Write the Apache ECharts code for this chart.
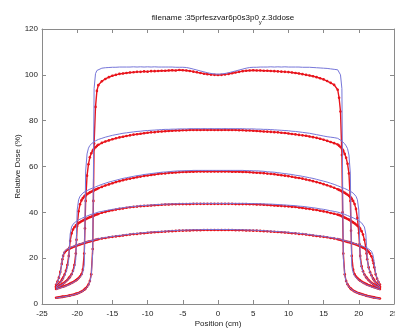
<!DOCTYPE html>
<html>
<head>
<meta charset="utf-8">
<script src="https://cdn.jsdelivr.net/npm/echarts@6/dist/echarts.min.js"></script>
<style>html,body{margin:0;padding:0;background:#fff;}#c{width:395px;height:330px;}</style>
</head>
<body>
<div id="c"></div>
<script>
// Shared positions (cm)
const posX = [
-23,-22.8,-22.6,-22.4,-22.2,-22.1,-22,-21.8,-21.6,-21.4,-21.2,-21.1,-21,-20.8,-20.6,-20.4,-20.2,-20.1,-20,-19.8,-19.6,-19.4,-19.2,-19,-18.9,-18.8,-18.6,-18.4,-18.2,-18,-17.8,-17.7,-17.6,-17.4,-17.2,-17,
-16.5,-16,-15.5,-15,-14.5,-14,-13.5,-13,-12.5,-12,-11.5,-11,-10.5,-10,-9.5,-9,-8.5,-8,-7.5,-7,-6.5,-6,-5.5,-5,-4.5,-4,-3.5,-3,-2.5,-2,-1.5,-1,-0.5,0,0.5,1,1.5,2,2.5,3,3.5,4,4.5,5,5.5,6,6.5,7,7.5,8,8.5,9,9.5,10,10.5,11,11.5,12,12.5,13,13.5,14,14.5,15,15.5,16,16.5,
17,17.2,17.4,17.6,17.7,17.8,18,18.2,18.4,18.6,18.8,18.9,19,19.2,19.4,19.6,19.8,20,20.1,20.2,20.4,20.6,20.8,21,21.1,21.2,21.4,21.6,21.8,22,22.1,22.2,22.4,22.6,22.8,23
];

// Profile A (top)
const blueA = [
2.6,2.7,2.8,2.9,3.0,3.1,3.1,3.2,3.3,3.4,3.5,3.6,3.6,3.8,3.9,4.1,4.3,4.4,4.5,4.7,5.0,5.3,5.6,6.0,6.3,6.6,7.3,8.2,9.6,12.5,22,55,94,100.5,101.9,102.5,
102.9,103.1,103.2,103.3,103.3,103.4,103.4,103.4,103.4,103.5,
103.4,103.5,103.4,103.5,103.4,103.5,103.4,103.4,103.4,103.4,
103.4,103.3,103.3,103.3,103.2,102.9,102.5,102.1,101.7,101.3,
100.9,100.6,100.4,100.3,100.4,100.6,100.9,101.3,101.7,102.1,
102.5,102.9,103.2,103.3,103.3,103.4,103.4,103.4,103.5,103.4,
103.5,103.4,103.5,103.4,103.4,103.4,103.4,103.3,103.3,103.3,
103.2,103.1,103.0,102.9,102.8,102.6,102.4,
102.2,101.6,100.0,94,55,20,12.5,9.8,8.4,7.5,6.8,6.5,6.2,5.8,5.4,5.1,4.8,4.6,4.5,4.4,4.2,4.0,3.8,3.6,3.5,3.4,3.3,3.2,3.0,2.9,2.8,2.8,2.6,2.5,2.4,2.3
];
const redA = [
2.7,2.8,2.9,3.0,3.1,3.1,3.2,3.3,3.4,3.5,3.6,3.7,3.7,3.9,4.0,4.2,4.4,4.5,4.6,4.8,5.1,5.4,5.8,6.2,6.5,6.8,7.5,8.5,10.0,13,24,45,70,86,93,95.5,
97.2,98.2,99.0,99.6,100.0,100.4,100.6,100.8,101.0,101.1,
101.3,101.3,101.5,101.4,101.6,101.6,101.7,101.8,101.8,101.9,
102.0,101.9,102.1,102.0,101.9,101.7,101.4,101.1,100.8,100.5,
100.3,100.1,100.0,99.9,100.0,100.2,100.4,100.7,101.0,101.3,
101.6,101.8,101.9,102.0,101.9,101.9,101.8,101.8,101.7,101.6,
101.5,101.4,101.3,101.2,101.0,100.8,100.6,100.3,100.0,99.7,
99.4,99.0,98.5,98.0,97.3,96.5,95.6,
93.5,90,84,65,40,22,13,10,8.6,7.6,6.9,6.6,6.3,5.9,5.5,5.2,4.9,4.7,4.6,4.5,4.3,4.1,3.9,3.7,3.6,3.5,3.4,3.3,3.1,3.0,2.9,2.9,2.7,2.6,2.5,2.4
];

// Profile B
const blueB = [
6.4,6.6,6.8,7.0,7.2,7.3,7.4,7.6,7.9,8.1,8.4,8.5,8.7,9.0,9.3,9.7,10.1,10.3,10.5,11.0,11.6,12.4,13.8,17,35,58,65.5,68.0,69.2,69.9,70.4,70.6,70.8,71.2,71.5,71.8,
72.3,72.8,73.2,73.6,73.9,74.2,74.5,74.7,74.9,75.1,
75.3,75.4,75.6,75.7,75.8,75.9,76.0,76.1,76.2,76.2,
76.3,76.3,76.4,76.4,76.4,76.5,76.5,76.5,76.5,76.5,
76.5,76.5,76.5,76.5,76.5,76.5,76.5,76.5,76.5,76.5,
76.5,76.4,76.4,76.4,76.3,76.3,76.2,76.2,76.1,76.0,
75.9,75.8,75.7,75.6,75.4,75.3,75.1,74.9,74.7,74.5,
74.2,73.9,73.6,73.3,73.0,72.8,72.6,
72.3,71.9,71.5,71.0,70.8,70.5,69.9,69.0,67.8,65,57,33,16.5,13.6,12.3,11.5,10.9,10.4,10.2,10.0,9.6,9.2,8.9,8.6,8.4,8.3,8.0,7.8,7.5,7.3,7.2,7.1,6.9,6.7,6.5,6.3
];
const redB = [
6.6,6.8,7.0,7.2,7.4,7.5,7.6,7.8,8.1,8.3,8.6,8.7,8.9,9.2,9.5,9.9,10.3,10.5,10.8,11.3,12.0,13.0,15,22,33,45,56,61,64,65.8,66.8,67.3,67.7,68.4,69.0,69.5,
70.3,70.9,71.4,71.9,72.3,72.7,73.0,73.3,73.6,73.9,
74.1,74.3,74.5,74.7,74.9,75.0,75.2,75.3,75.4,75.5,
75.6,75.7,75.7,75.8,75.8,75.9,75.9,75.9,75.9,76.0,
75.9,76.0,75.9,75.9,75.9,76.0,75.9,75.9,75.9,75.8,
75.8,75.7,75.7,75.6,75.5,75.4,75.3,75.2,75.1,75.0,
74.9,74.7,74.6,74.4,74.2,74.0,73.8,73.6,73.4,73.1,
72.8,72.5,72.1,71.7,71.2,70.7,70.2,
69.6,69.1,68.5,67.8,67.3,66.8,65.5,63.8,61.2,57,45,32,21,15,13.0,12.0,11.3,10.7,10.5,10.2,9.8,9.4,9.1,8.8,8.6,8.5,8.2,8.0,7.7,7.5,7.4,7.3,7.1,6.9,6.7,6.5
];

// Profile C
const blueC = [
7.0,7.3,7.6,7.9,8.3,8.5,8.7,9.2,9.7,10.3,11.0,11.4,11.8,12.8,14.0,15.8,19.5,30,41,45.5,47.0,47.8,48.4,48.8,49.0,49.2,49.5,49.8,50.1,50.4,50.6,50.7,50.9,51.1,51.4,51.6,
52.2,52.7,53.2,53.6,54.0,54.4,54.8,55.1,55.4,55.7,
56.0,56.2,56.5,56.7,56.9,57.1,57.3,57.5,57.6,57.7,
57.9,58.0,58.1,58.1,58.2,58.2,58.3,58.3,58.3,58.3,
58.3,58.3,58.3,58.3,58.3,58.3,58.3,58.3,58.3,58.3,
58.3,58.2,58.2,58.1,58.1,58.0,57.9,57.7,57.6,57.5,
57.3,57.1,56.9,56.7,56.5,56.2,56.0,55.7,55.4,55.1,
54.8,54.4,54.0,53.6,53.2,52.7,52.2,
51.6,51.4,51.1,50.9,50.7,50.6,50.4,50.1,49.8,49.5,49.2,49.0,48.8,48.4,47.8,47.0,45.5,41,30,19.5,15.8,14.0,12.8,11.8,11.4,11.0,10.3,9.7,9.2,8.7,8.5,8.3,7.9,7.6,7.3,7.0
];
const redC = [
7.2,7.5,7.8,8.1,8.5,8.7,8.9,9.4,9.9,10.5,11.2,11.6,12.0,13.0,14.5,17,22,28,34,40.5,43.5,45.2,46.2,46.9,47.2,47.4,47.9,48.3,48.7,49.0,49.3,49.5,49.6,49.9,50.2,50.5,
51.1,51.7,52.2,52.7,53.2,53.6,54.0,54.4,54.7,55.0,
55.3,55.6,55.9,56.1,56.3,56.5,56.7,56.9,57.0,57.2,
57.3,57.4,57.5,57.6,57.6,57.7,57.7,57.8,57.8,57.8,
57.8,57.8,57.8,57.8,57.8,57.8,57.8,57.7,57.7,57.7,
57.6,57.6,57.5,57.4,57.3,57.2,57.1,56.9,56.8,56.6,
56.4,56.2,56.0,55.8,55.5,55.2,55.0,54.7,54.3,54.0,
53.6,53.2,52.8,52.3,51.8,51.3,50.7,
50.1,49.8,49.5,49.2,49.0,48.8,48.5,48.1,47.7,47.2,46.6,46.3,45.9,45.0,43.6,41.5,37.5,31,26,21,16.5,14.3,12.9,11.9,11.5,11.1,10.4,9.8,9.3,8.8,8.6,8.4,8.0,7.7,7.4,7.1
];

// Profile D
const blueD = [
7.5,8.0,8.6,9.3,10.1,10.6,11.1,12.3,13.8,15.8,19.5,25.5,30.5,33.6,34.8,35.4,35.9,36.1,36.3,36.7,37.0,37.3,37.6,37.9,38.0,38.1,38.4,38.6,38.9,39.1,39.3,39.4,39.5,39.7,39.9,40.1,
40.4,40.7,41.0,41.3,41.5,41.8,42.0,42.2,42.4,42.6,
42.7,42.9,43.0,43.1,43.2,43.3,43.4,43.5,43.6,43.6,
43.7,43.7,43.8,43.8,43.8,43.9,43.9,43.9,43.9,43.9,
43.9,43.9,43.9,43.9,43.9,43.9,43.9,43.9,43.9,43.9,
43.9,43.9,43.8,43.8,43.8,43.7,43.7,43.6,43.6,43.5,
43.4,43.3,43.2,43.1,43.0,42.9,42.7,42.6,42.4,42.2,
42.0,41.8,41.5,41.3,41.0,40.7,40.4,
40.1,39.9,39.7,39.5,39.4,39.3,39.1,38.9,38.6,38.4,38.1,38.0,37.9,37.6,37.3,37.0,36.7,36.3,36.1,35.9,35.4,34.8,33.6,30.5,25.5,19.5,15.8,13.8,12.3,11.1,10.6,10.1,9.3,8.6,8.0,7.5
];
const redD = [
7.7,8.2,8.8,9.5,10.4,10.9,11.5,12.8,14.5,17,21,24.5,27.5,30.8,32.5,33.5,34.2,34.5,34.8,35.3,35.7,36.1,36.4,36.7,36.9,37.0,37.3,37.6,37.9,38.1,38.4,38.5,38.6,38.9,39.1,39.3,
39.8,40.2,40.6,40.9,41.2,41.5,41.7,42.0,42.2,42.4,
42.5,42.7,42.8,42.9,43.0,43.1,43.2,43.3,43.4,43.4,
43.5,43.5,43.6,43.6,43.6,43.6,43.7,43.7,43.7,43.7,
43.7,43.7,43.7,43.7,43.7,43.7,43.7,43.7,43.6,43.6,
43.6,43.6,43.5,43.5,43.4,43.4,43.3,43.2,43.1,43.0,
42.9,42.8,42.7,42.6,42.4,42.3,42.1,41.9,41.7,41.5,
41.2,41.0,40.7,40.4,40.1,39.7,39.4,
39.0,38.8,38.6,38.3,38.2,38.0,37.7,37.4,37.1,36.8,36.4,36.2,36.0,35.6,35.2,34.7,34.2,33.6,33.2,32.8,31.8,30.3,28,24.5,22,19.5,16,13.9,12.5,11.3,10.8,10.3,9.4,8.7,8.1,7.6
];

// Profile E (bottom)
const blueE = [
8.4,9.6,11.2,13.5,17.5,20.0,21.5,23.0,23.6,24.0,24.3,24.5,24.6,24.9,25.1,25.4,25.6,25.7,25.8,26.0,26.2,26.4,26.6,26.8,26.9,27.0,27.2,27.3,27.5,27.7,27.8,27.9,28.0,28.2,28.3,28.5,
28.8,29.0,29.3,29.5,29.7,29.9,30.1,30.3,30.5,30.7,
30.8,31.0,31.1,31.3,31.4,31.5,31.6,31.7,31.8,31.9,
32.0,32.1,32.2,32.2,32.3,32.3,32.4,32.4,32.4,32.5,
32.5,32.5,32.5,32.5,32.5,32.5,32.5,32.5,32.4,32.4,
32.4,32.3,32.3,32.2,32.2,32.1,32.0,31.9,31.8,31.7,
31.6,31.5,31.4,31.3,31.1,31.0,30.8,30.7,30.5,30.3,
30.1,29.9,29.7,29.5,29.3,29.0,28.8,
28.5,28.3,28.2,28.0,27.9,27.8,27.7,27.5,27.3,27.2,27.0,26.9,26.8,26.6,26.4,26.2,26.0,25.8,25.7,25.6,25.4,25.1,24.9,24.6,24.5,24.3,24.0,23.6,23.0,21.5,20.0,17.5,13.5,11.2,9.6,8.4
];
const redE = [
8.4,9.8,11.5,14.0,17.5,19.5,21.0,22.5,23.2,23.7,24.0,24.2,24.3,24.6,24.9,25.1,25.4,25.5,25.6,25.8,26.0,26.2,26.4,26.6,26.7,26.8,27.0,27.2,27.3,27.5,27.6,27.7,27.8,28.0,28.1,28.3,
28.6,28.8,29.1,29.3,29.5,29.7,29.9,30.1,30.3,30.5,
30.6,30.8,30.9,31.1,31.2,31.3,31.4,31.5,31.6,31.7,
31.8,31.9,32.0,32.0,32.1,32.1,32.2,32.2,32.2,32.3,
32.3,32.3,32.3,32.3,32.3,32.3,32.3,32.3,32.2,32.2,
32.2,32.1,32.1,32.0,32.0,31.9,31.8,31.7,31.6,31.5,
31.4,31.3,31.2,31.1,30.9,30.8,30.6,30.5,30.3,30.1,
29.9,29.7,29.5,29.3,29.1,28.8,28.6,
28.3,28.1,28.0,27.8,27.7,27.6,27.5,27.3,27.1,27.0,26.8,26.7,26.6,26.4,26.2,26.0,25.7,25.5,25.4,25.2,24.9,24.6,24.3,23.9,23.7,23.4,22.8,22.0,20.8,19.0,17.8,16.0,13.0,11.0,9.6,8.5
];

const titleText = 'filename :35prfeszvar6p0s3p0';
const titleSub = 'y';
const titleTail = 'z.3ddose';
const xName = 'Position (cm)';
const yName = 'Relative Dose (%)';

const FONT = '"Liberation Sans", Arial, Helvetica, sans-serif';
const BLUE = '#7676d9';
const RED = '#e8141c';
const AXC = '#8a8a8a';

function pairs(vals){ return posX.map((x,i)=>[x, vals[i]]); }

const reds = [redA, redB, redC, redD, redE];
const blues = [blueA, blueB, blueC, blueD, blueE];

const series = [];
reds.forEach(r => series.push({
  type:'line', data: pairs(r), z: 2, silent: true,
  symbol:'circle', symbolSize: 2.6, showSymbol: true, showAllSymbol: true,
  itemStyle:{color: RED, borderWidth: 0},
  lineStyle:{color: RED, width: 1.4}
}));
blues.forEach(b => series.push({
  type:'line', data: pairs(b), z: 3, silent: true,
  symbol:'none', showSymbol: false,
  lineStyle:{color: BLUE, width: 1}
}));

const axisCommon = {
  axisLine:{show:true, onZero:false, lineStyle:{color:AXC, width:1}},
  axisTick:{show:true, inside:true, length:4, lineStyle:{color:AXC}},
  splitLine:{show:false}
};

const chart = echarts.init(document.getElementById('c'), null, {renderer:'canvas'});
chart.setOption({
  animation:false,
  backgroundColor:'#fff',
  title:{
    text:'{a|' + titleText + '}{b|' + titleSub + '}{a|' + titleTail + '}',
    left: 218, top: 5, textAlign:'center',
    textStyle:{
      fontFamily: FONT, fontSize: 8, fontWeight:'normal', color:'#111',
      rich:{
        a:{fontFamily: FONT, fontSize: 8, color:'#111', verticalAlign:'bottom', lineHeight: 12},
        b:{fontFamily: FONT, fontSize: 6, color:'#111', verticalAlign:'bottom', lineHeight: 12, padding:[0,0,-3,0]}
      }
    }
  },
  grid:{left:42, right:1, top:29, bottom:26, containLabel:false, outerBoundsMode:'none'},
  xAxis:[
    Object.assign({type:'value', min:-25, max:25, interval:5, position:'bottom',
      axisLabel:{color:'#222', fontSize:8, fontFamily:FONT, margin:6, hideOverlap:false},
      name:xName, nameLocation:'middle', nameGap:16, nameMoveOverlap:false,
      nameTextStyle:{color:'#222', fontSize:8, fontFamily:FONT}}, axisCommon),
    Object.assign({type:'value', min:-25, max:25, interval:5, position:'top',
      axisLabel:{show:false}}, axisCommon)
  ],
  yAxis:[
    Object.assign({type:'value', min:0, max:120, interval:20, position:'left',
      axisLabel:{color:'#222', fontSize:8, fontFamily:FONT, margin:4},
      name:yName, nameLocation:'middle', nameGap:20, nameMoveOverlap:false,
      nameTextStyle:{color:'#222', fontSize:8, fontFamily:FONT}}, axisCommon),
    Object.assign({type:'value', min:0, max:120, interval:20, position:'right',
      axisLabel:{show:false}}, axisCommon)
  ],
  series: series
});
</script>
</body>
</html>
